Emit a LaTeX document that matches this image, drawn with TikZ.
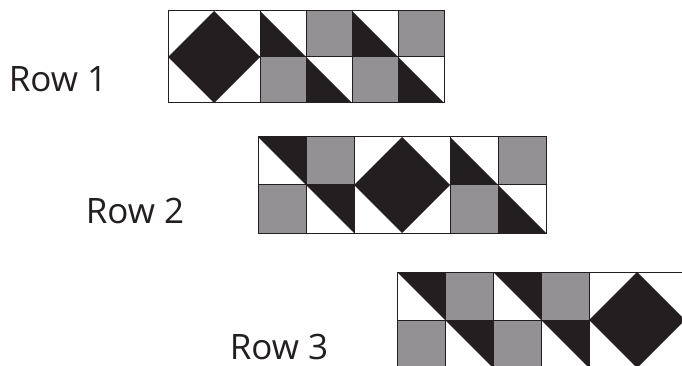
\documentclass[tikz,border=0pt]{standalone}
\usepackage{fontspec}
\setmainfont{Open Sans}
\definecolor{blk}{HTML}{231F20}
\definecolor{gry}{HTML}{939193}
\tikzset{
  ln/.style={draw=blk, line width=1pt},
  lbl/.style={anchor=base, font=\fontsize{35}{40}\selectfont, text=blk, inner sep=0pt}
}
% cell helpers: #1 x0, #2 y0, #3 size, #4 col, #5 row
\newcommand\cellG[5]{\fill[gry] ({#1+#4*#3},{#2+#5*#3}) rectangle ++(#3,#3);}
\newcommand\cellA[5]{\fill[blk] ({#1+#4*#3},{#2+#5*#3}) -- ++(0,#3) -- ++(#3,0) -- cycle;}
\newcommand\cellB[5]{\fill[blk] ({#1+#4*#3},{#2+#5*#3}) -- ++(#3,0) -- ++(0,#3) -- cycle;}
\newcommand\dmd[4]{\fill[blk] ({#1+#4*#3},{#2+#3}) -- ({#1+(#4+1)*#3},{#2}) -- ({#1+(#4+2)*#3},{#2+#3}) -- ({#1+(#4+1)*#3},{#2+2*#3}) -- cycle;}
\newcommand\cellL[5]{\draw[ln] ({#1+#4*#3},{#2+#5*#3}) rectangle ++(#3,#3);}
\newcommand\dmdL[4]{\draw[ln] ({#1+#4*#3},{#2}) rectangle ++({2*#3},{2*#3});}
\begin{document}
\begin{tikzpicture}[x=1pt,y=-1pt]
\useasboundingbox (0,0) rectangle (682,366);
\begin{scope}
\clip (0,0) rectangle (682,366);
% Row 1
\dmd{168}{11}{46}{0}
\cellA{168}{11}{46}{2}{0}\cellG{168}{11}{46}{2}{1}
\cellG{168}{11}{46}{3}{0}\cellA{168}{11}{46}{3}{1}
\cellA{168}{11}{46}{4}{0}\cellG{168}{11}{46}{4}{1}
\cellG{168}{11}{46}{5}{0}\cellA{168}{11}{46}{5}{1}
\dmdL{168}{11}{46}{0}
\foreach \c in {2,3,4,5}{\foreach \r in {0,1}{\cellL{168}{11}{46}{\c}{\r}}}
\draw[ln] (168,57) -- (260,57);
% Row 2
\cellB{258}{137}{48}{0}{0}\cellG{258}{137}{48}{0}{1}
\cellG{258}{137}{48}{1}{0}\cellB{258}{137}{48}{1}{1}
\dmd{258}{137}{48}{2}
\cellA{258}{137}{48}{4}{0}\cellG{258}{137}{48}{4}{1}
\cellG{258}{137}{48}{5}{0}\cellA{258}{137}{48}{5}{1}
\dmdL{258}{137}{48}{2}
\foreach \c in {0,1,4,5}{\foreach \r in {0,1}{\cellL{258}{137}{48}{\c}{\r}}}
% Row 3
\cellB{397}{272}{48}{0}{0}\cellG{397}{272}{48}{0}{1}
\cellG{397}{272}{48}{1}{0}\cellB{397}{272}{48}{1}{1}
\cellB{397}{272}{48}{2}{0}\cellG{397}{272}{48}{2}{1}
\cellG{397}{272}{48}{3}{0}\cellB{397}{272}{48}{3}{1}
\dmd{397}{272}{48}{4}
\dmdL{397}{272}{48}{4}
\foreach \c in {0,1,2,3}{\foreach \r in {0,1}{\cellL{397}{272}{48}{\c}{\r}}}
\end{scope}
\node[lbl] (r1) at (58,92) {Row 1};
\node[lbl] (r2) at (135,223) {Row 2};
\node[lbl] (r3) at (279,359) {Row 3};
\end{tikzpicture}
\end{document}
